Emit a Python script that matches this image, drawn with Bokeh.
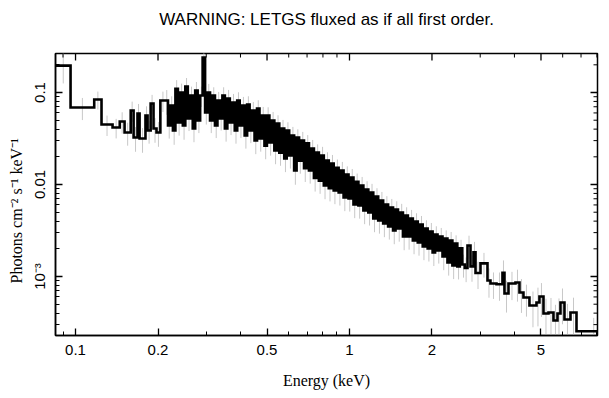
import math
from bokeh.plotting import figure
from bokeh.models import Range1d, FixedTicker, Title, LogAxis
from bokeh.embed import file_html
from bokeh.resources import INLINE

# ---- data: soft part (wide bins) ----
soft_edges = [0.0848, 0.0959, 0.117, 0.1244, 0.1365, 0.145, 0.151, 0.159, 0.1629,
              0.1683, 0.1713, 0.180, 0.1832, 0.188, 0.1926, 0.1975, 0.204]
soft_flux = [0.196, 0.0687, 0.0839, 0.0449, 0.0417, 0.0484, 0.0367, 0.0637, 0.0324,
             0.0591, 0.0316, 0.0562, 0.0386, 0.0760, 0.0406, 0.0367, 0.0818]
soft_err = [0.36, 0.27, 0.22, 0.25, 0.24, 0.26, 0.28, 0.25, 0.30,
            0.27, 0.30, 0.26, 0.28, 0.24, 0.30, 0.30, 0.25]

# ---- data: middle part (narrow bins) ----
mid_edges = [
    0.2130, 0.2175, 0.2221, 0.2267, 0.2315, 0.2364, 0.2413, 0.2464, 0.2516, 0.2569,
    0.2623, 0.2678, 0.2734, 0.2791, 0.2850, 0.2910, 0.2971, 0.3033, 0.3097, 0.3162,
    0.3228, 0.3296, 0.3365, 0.3436, 0.3508, 0.3582, 0.3657, 0.3734, 0.3812, 0.3892,
    0.3974, 0.4058, 0.4143, 0.4230, 0.4319, 0.4410, 0.4502, 0.4597, 0.4693, 0.4792,
    0.4893, 0.4995, 0.5100, 0.5207, 0.5317, 0.5428, 0.5542, 0.5659, 0.5778, 0.5899,
    0.6023, 0.6150, 0.6279, 0.6411, 0.6545, 0.6683, 0.6823, 0.6967, 0.7113, 0.7262,
    0.7415, 0.7571, 0.7730, 0.7892, 0.8058, 0.8227, 0.8400, 0.8576, 0.8756, 0.8940,
    0.9128, 0.9320, 0.9515, 0.9715, 0.9919, 1.0128, 1.0340, 1.0557, 1.0779, 1.1005,
    1.1237, 1.1473, 1.1714, 1.1960, 1.2211, 1.2467, 1.2729, 1.2996, 1.3269, 1.3548,
    1.3832, 1.4123, 1.4419, 1.4722, 1.5031, 1.5347, 1.5669, 1.5998, 1.6334, 1.6677,
    1.7028, 1.7385, 1.7750, 1.8123, 1.8504, 1.8892, 1.9289, 1.9694, 2.0108, 2.0530,
    2.0961, 2.1401, 2.1851, 2.2310, 2.2778, 2.3256, 2.3745, 2.4244, 2.4753, 2.5272,
    2.5803]
mid_flux = [
    0.0818, 0.0438, 0.0722, 0.0386, 0.110, 0.0472, 0.100, 0.0438, 0.116, 0.0522,
    0.0927, 0.0406, 0.105, 0.0496, 0.0927, 0.240, 0.0606, 0.100, 0.0496, 0.0927,
    0.0438, 0.0818, 0.0522, 0.0927, 0.0406, 0.0860, 0.0472, 0.0778, 0.0386, 0.0818,
    0.0438, 0.0722, 0.0341, 0.0740, 0.0386, 0.0637, 0.0301, 0.0670, 0.0316, 0.0562,
    0.0265, 0.0562, 0.0286, 0.0496, 0.0234, 0.0460, 0.0222, 0.0406, 0.0192, 0.0386,
    0.0207, 0.0341, 0.0142, 0.0324, 0.0182, 0.0301, 0.0150, 0.0280, 0.0142, 0.0246,
    0.0118, 0.0222, 0.0110, 0.0207, 0.00975, 0.0182, 0.00910, 0.0169, 0.00861, 0.0152,
    0.0082, 0.0142, 0.00723, 0.0128, 0.00705, 0.0119, 0.00607, 0.0107, 0.00591, 0.00975,
    0.00522, 0.00883, 0.00497, 0.0082, 0.00427, 0.00741, 0.00406, 0.0067, 0.00377, 0.00607,
    0.0035, 0.00562, 0.00316, 0.00535, 0.00332, 0.00497, 0.00272, 0.0046, 0.00272, 0.00427,
    0.00246, 0.00396, 0.00234, 0.00367, 0.00212, 0.00332, 0.00202, 0.00308, 0.00183, 0.00286,
    0.00192, 0.00272, 0.00165, 0.00258, 0.00142, 0.00246, 0.00132, 0.00228, 0.00129, 0.00202,
    0.00135]
mid_err = [
    0.30, 0.28, 0.26, 0.30, 0.24, 0.28, 0.25, 0.30, 0.24, 0.27,
    0.25, 0.29, 0.24, 0.27, 0.25, 0.12, 0.26, 0.24, 0.27, 0.23,
    0.27, 0.24, 0.26, 0.23, 0.28, 0.24, 0.27, 0.24, 0.28, 0.23,
    0.27, 0.24, 0.28, 0.23, 0.27, 0.24, 0.29, 0.23, 0.28, 0.24,
    0.29, 0.23, 0.28, 0.24, 0.29, 0.23, 0.28, 0.24, 0.29, 0.23,
    0.28, 0.24, 0.30, 0.23, 0.28, 0.24, 0.29, 0.23, 0.28, 0.24,
    0.29, 0.23, 0.28, 0.24, 0.29, 0.23, 0.28, 0.24, 0.29, 0.23,
    0.28, 0.24, 0.29, 0.23, 0.28, 0.24, 0.29, 0.23, 0.28, 0.24,
    0.29, 0.23, 0.28, 0.24, 0.29, 0.23, 0.28, 0.24, 0.29, 0.23,
    0.28, 0.24, 0.29, 0.23, 0.28, 0.24, 0.29, 0.23, 0.28, 0.24,
    0.29, 0.23, 0.28, 0.24, 0.29, 0.23, 0.28, 0.24, 0.29, 0.23,
    0.28, 0.24, 0.29, 0.23, 0.28, 0.24, 0.29, 0.23, 0.28, 0.24,
    0.28]

# ---- data: hard part (wide bins) ----
hard_edges = [2.6345, 2.696, 2.765, 2.835, 2.884, 3.007, 3.189, 3.270, 3.440, 3.617,
              3.679, 3.805, 4.035, 4.173, 4.315, 4.538, 4.814, 4.936, 5.106, 5.325,
              5.553, 5.743, 5.890, 6.091, 6.407, 6.739]
hard_flux = [0.00124, 0.00217, 0.00129, 0.00183, 0.00109, 0.00139, 0.000905, 0.000839,
             0.000825, 0.00110, 0.000654, 0.000839, 0.00086, 0.00067, 0.000591, 0.000484,
             0.000522, 0.000606, 0.000396, 0.000406, 0.000333, 0.000396, 0.000522,
             0.000341, 0.000406, 0.000254]
hard_err = [0.30, 0.28, 0.32, 0.30, 0.33, 0.30, 0.35, 0.32, 0.34, 0.36,
            0.38, 0.34, 0.38, 0.40, 0.38, 0.42, 0.45, 0.40, 0.45, 0.44,
            0.48, 0.46, 0.42, 0.48, 0.45, 0.40]
energy_max = 9.0

x_major = [0.1, 0.2, 0.5, 1, 2, 5]
x_major_labels = ["0.1", "0.2", "0.5", "1", "2", "5"]
x_minor = [0.09, 0.3, 0.4, 0.6, 0.7, 0.8, 0.9, 3, 4, 6, 7, 8]
y_major = [0.001, 0.01, 0.1]
y_major_labels = ["10\u207b\u00b3", "0.01", "0.1"]
y_minor = [0.0003, 0.0004, 0.0005, 0.0006, 0.0007, 0.0008, 0.0009,
           0.002, 0.003, 0.004, 0.005, 0.006, 0.007, 0.008, 0.009,
           0.02, 0.03, 0.04, 0.05, 0.06, 0.07, 0.08, 0.09, 0.2]

title_text = "WARNING: LETGS fluxed as if all first order."
x_label = "Energy (keV)"
y_label = "Photons cm\u207b\u00b2 s\u207b\u00b9 keV\u207b\u00b9"

# ---- assemble bins ----
lo_edges, flux, err = [], [], []
for e, f, r in [(soft_edges, soft_flux, soft_err), (mid_edges, mid_flux, mid_err),
                (hard_edges, hard_flux, hard_err)]:
    n = min(len(e), len(f), len(r))
    lo_edges += e[:n]
    flux += f[:n]
    err += r[:n]
hi_edges = lo_edges[1:] + [energy_max]

step_x, step_y = [], []
for lo, hi, f in zip(lo_edges, hi_edges, flux):
    step_x += [lo, hi]
    step_y += [f, f]
cx = [math.sqrt(lo * hi) for lo, hi in zip(lo_edges, hi_edges)]
e_lo = [f * (1 - r) for f, r in zip(flux, err)]
e_hi = [f * (1 + r) for f, r in zip(flux, err)]

SANS = "Liberation Sans"
SERIF = "Liberation Serif"

X0, X1 = 0.0845, 8.04
Y0, Y1 = 2.285e-4, 0.2655

p = figure(width=609, height=398, x_axis_type="log", y_axis_type="log",
           x_range=Range1d(X0, X1), y_range=Range1d(Y0, Y1),
           output_backend="svg", toolbar_location=None,
           min_border_left=55, min_border_right=12, min_border_top=53, min_border_bottom=63)
p.grid.visible = False
p.outline_line_color = "black"
p.outline_line_width = 1.5
p.background_fill_color = "white"
p.border_fill_color = "white"

p.segment(cx, e_lo, cx, e_hi, line_color="#c8c8c8", line_width=1)
p.line(step_x, step_y, line_color="black", line_width=2.6, line_join="miter")

# ticks on the top and right frame edges (drawn as half-clipped dash markers)
p.scatter(x=x_major, y=[Y1] * len(x_major), marker="dash", angle=math.pi / 2,
          size=14, line_color="black", line_width=1.3)
p.scatter(x=x_minor, y=[Y1] * len(x_minor), marker="dash", angle=math.pi / 2,
          size=8, line_color="black", line_width=1)
p.scatter(x=[X1] * len(y_major), y=y_major, marker="dash",
          size=14, line_color="black", line_width=1.3)
p.scatter(x=[X1] * len(y_minor), y=y_minor, marker="dash",
          size=8, line_color="black", line_width=1)


def style(ax):
    ax.axis_line_color = "black"
    ax.axis_line_width = 1.5
    ax.major_tick_in = 7
    ax.major_tick_out = 0
    ax.minor_tick_in = 4
    ax.minor_tick_out = 0
    ax.major_tick_line_color = "black"
    ax.minor_tick_line_color = "black"
    ax.major_tick_line_width = 1.3
    ax.minor_tick_line_width = 1
    ax.major_label_text_font = SANS
    ax.major_label_text_font_size = "15px"
    ax.major_label_text_color = "black"
    ax.axis_label_text_font = SERIF
    ax.axis_label_text_font_size = "16px"
    ax.axis_label_text_font_style = "normal"
    ax.axis_label_text_color = "black"


xa = p.xaxis[0]
xa.ticker = FixedTicker(ticks=x_major, minor_ticks=x_minor)
xa.major_label_overrides = dict(zip(x_major, x_major_labels))
xa.axis_label = x_label
xa.major_label_standoff = 9
xa.axis_label_standoff = 14
style(xa)

ya = p.yaxis[0]
ya.ticker = FixedTicker(ticks=y_major, minor_ticks=y_minor)
ya.major_label_overrides = dict(zip(y_major, y_major_labels))
ya.major_label_orientation = "vertical"
ya.major_label_standoff = 7
style(ya)

# plot title: carried by a tick-less top axis so it can sit high above the frame
top = LogAxis(ticker=[], axis_label=title_text)
top.axis_line_color = None
top.major_tick_out = 0
top.major_tick_in = 0
top.minor_tick_out = 0
top.minor_tick_in = 0
top.major_label_standoff = 0
top.axis_label_standoff = 25
top.axis_label_text_font = SANS
top.axis_label_text_font_size = "17px"
top.axis_label_text_font_style = "normal"
top.axis_label_text_color = "black"
p.add_layout(top, "above")

# y-axis label as a side title, so that it can start where the reference's does
p.add_layout(Title(text=y_label, align="left", offset=52, standoff=8,
                   text_font=SERIF, text_font_size="16px", text_font_style="normal",
                   text_color="black"), "left")

open("out.html", "w").write(file_html(p, INLINE))
